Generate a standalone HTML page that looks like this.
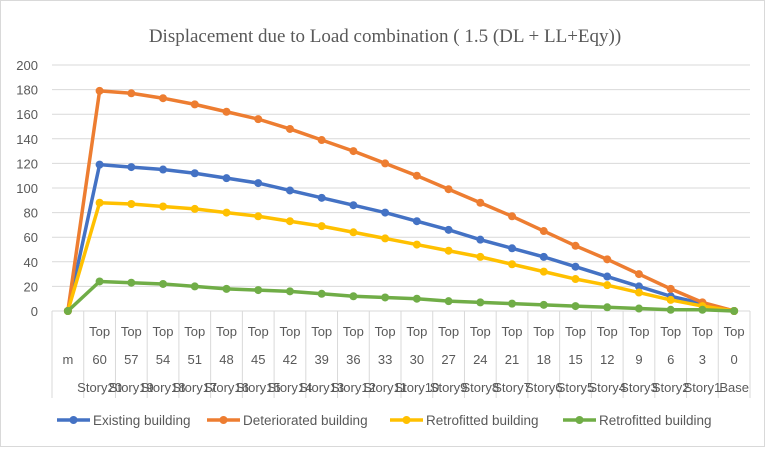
<!DOCTYPE html>
<html><head><meta charset="utf-8"><style>
body{margin:0;background:#fff;width:776px;height:452px;overflow:hidden;font-family:"Liberation Sans",sans-serif}
</style></head><body>
<svg id="chart" width="776" height="452" xmlns="http://www.w3.org/2000/svg">
<rect x="0.5" y="0.5" width="764" height="446" fill="#fff" stroke="#d9d9d9"/>
<text x="385" y="42" text-anchor="middle" font-family="Liberation Serif, serif" font-size="19" fill="#595959">Displacement due to Load combination ( 1.5 (DL + LL+Eqy))</text>
<g id="grid"></g><g id="xaxis"></g><g id="series"></g><g id="legend"></g>
</svg>
<script>
const tops=["","Top","Top","Top","Top","Top","Top","Top","Top","Top","Top","Top","Top","Top","Top","Top","Top","Top","Top","Top","Top","Top"];
const heights=["m","60","57","54","51","48","45","42","39","36","33","30","27","24","21","18","15","12","9","6","3","0"];
const stories=["","Story20","Story19","Story18","Story17","Story16","Story15","Story14","Story13","Story12","Story11","Story10","Story9","Story8","Story7","Story6","Story5","Story4","Story3","Story2","Story1","Base"];
const existing=[0,119,117,115,112,108,104,98,92,86,80,73,66,58,51,44,36,28,20,12,6,0];
const deteriorated=[0,179,177,173,168,162,156,148,139,130,120,110,99,88,77,65,53,42,30,18,7,0];
const retrofitted=[0,88,87,85,83,80,77,73,69,64,59,54,49,44,38,32,26,21,15,9,4,0];
const retrofitted2=[0,24,23,22,20,18,17,16,14,12,11,10,8,7,6,5,4,3,2,1,1,0];
const yTicks=[0,20,40,60,80,100,120,140,160,180,200];
const seriesNames=["Existing building","Deteriorated building","Retrofitted building","Retrofitted building"];
const seriesColors=["#4472c4","#ed7d31","#ffc000","#70ad47"];
const NS="http://www.w3.org/2000/svg";
const L=52,R=750,T=65,B=311,n=heights.length,cw=(R-L)/n;
const x=i=>L+cw*(i+0.5);
const y=v=>B-(v/200)*(B-T);
function mk(t,a,p){const e=document.createElementNS(NS,t);for(const k in a)e.setAttribute(k,a[k]);p.appendChild(e);return e;}
const grid=document.getElementById('grid');
yTicks.forEach(v=>{
 const l=mk('line',{x1:L,x2:R,y1:y(v),y2:y(v),stroke:'#d9d9d9','stroke-width':1},grid);
 
 
 const t=mk('text',{x:38,y:y(v)+5,'text-anchor':'end','font-size':13,fill:'#595959'},grid);t.textContent=v;
 
 
});
const xa=document.getElementById('xaxis');
for(let i=0;i<=n;i++){const l=mk('line',{x1:L+cw*i,x2:L+cw*i,y1:B,y2:398,stroke:'#d9d9d9'},xa);
 
 }
heights.forEach((h,i)=>{
 [[tops[i],336],[h,364]].forEach(([s,yy])=>{const t=mk('text',{x:x(i),y:yy,'text-anchor':'middle','font-size':13,fill:'#595959'},xa);t.textContent=s;
  
  });
 const t=mk('text',{x:x(i),y:392,'text-anchor':'middle','font-size':13,fill:'#595959'},xa);t.textContent=stories[i];
 
 
});
const sg=document.getElementById('series');
[existing,deteriorated,retrofitted,retrofitted2].forEach((d,si)=>{
 const g=mk('g',{},sg);
 
 
 const p=mk('polyline',{points:d.map((v,i)=>x(i)+','+y(v)).join(' '),fill:'none',stroke:seriesColors[si],'stroke-width':3.5,'stroke-linejoin':'round'},g);
 
 
 d.forEach((v,i)=>{const c=mk('circle',{cx:x(i),cy:y(v),r:4,fill:seriesColors[si]},g);
  
  });
});
const lg=document.getElementById('legend');
const lx=[57,207,390,563];
seriesNames.forEach((s,i)=>{
 const g=mk('g',{},lg);
 
 
 mk('line',{x1:lx[i],x2:lx[i]+33,y1:420,y2:420,stroke:seriesColors[i],'stroke-width':3.5},g);
 mk('circle',{cx:lx[i]+16.5,cy:420,r:4,fill:seriesColors[i]},g);
 const t=mk('text',{x:lx[i]+36,y:425,'font-size':13.5,fill:'#595959'},g);t.textContent=s;
});
</script>
</body></html>
